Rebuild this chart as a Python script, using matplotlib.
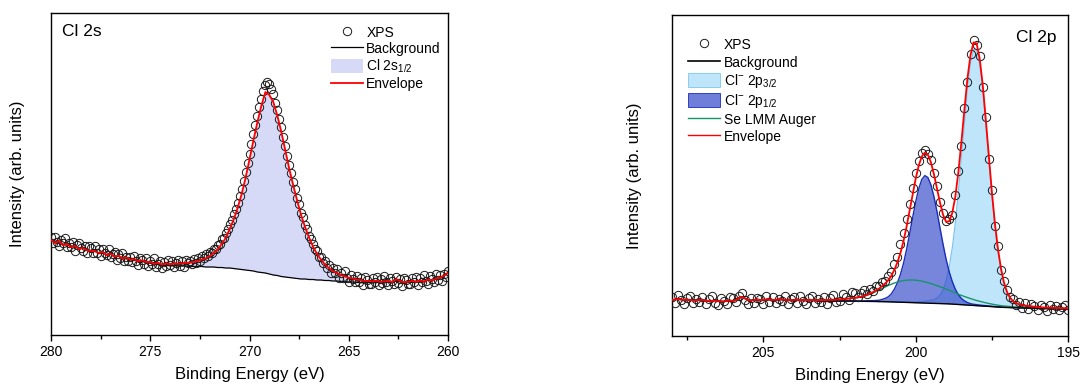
import matplotlib
matplotlib.use('Agg')
import matplotlib.pyplot as plt
import numpy as np
from matplotlib.lines import Line2D
from matplotlib.patches import Patch

plt.rcParams['font.family'] = ['Liberation Sans', 'DejaVu Sans']
plt.rcParams['mathtext.fontset'] = 'custom'
plt.rcParams['mathtext.rm'] = 'Liberation Sans'
plt.rcParams['mathtext.default'] = 'regular'

# ----- Cl 2s (left panel) -----
# fit curves on a 0.2 eV grid, 280 -> 260 eV
e_2s = np.round(np.arange(280.0, 259.9, -0.2), 1)

bg_2s = [95, 92, 94, 90, 91, 88, 89, 86, 87, 85,
         84, 84, 82, 83, 80, 81, 78, 79, 76, 77,
         75, 75, 73, 74, 72, 72, 70, 71, 69, 70,
         69, 69.5, 69, 69, 69, 68.5, 68.5, 68.5, 68.5, 68,
         68, 68, 67.5, 67.5, 67, 67, 66.5, 66, 65.5, 65,
         64.5, 64, 63, 62.5, 62, 61, 60, 59.5, 58.5, 58,
         57.5, 57, 56.5, 56, 56, 55.5, 55.5, 55, 55, 54.5,
         54.5, 54, 54, 53.5, 53.5, 53, 53, 52.5, 52.5, 52,
         52.5, 52, 53, 52, 52.5, 53, 52, 55, 53, 52,
         52.5, 53.5, 52.5, 54, 53, 55, 54, 56, 57, 59,
         62]

cl2s = [0] * 15 + [
    0.3, 0.3, 0.4, 0.4, 0.5, 0.5, 0.6, 0.7, 0.8, 0.9,
    1.0, 1.1, 1.2, 1.4, 1.6, 1.8, 2.0, 2.3, 2.7, 3.2,
    3.8, 4.6, 5.6, 7, 8.7, 11, 14, 18, 23.5, 30,
    39, 49, 61, 75, 92, 111, 131, 150, 167, 181,
    179, 173, 160, 145, 127, 109, 93, 78, 64, 52,
    42, 33, 26, 20.5, 16, 12.5, 10, 8, 6.5, 5.2,
    4.2, 3.5, 2.9, 2.4, 2.0, 1.7, 1.5, 1.3, 1.2, 1.1,
    1.0, 0.9, 0.8, 0.8, 0.7, 0.7, 0.6, 0.6, 0.5, 0.5,
    0.5, 0.4, 0.4, 0.4, 0.3, 0.3]

# measured points on a 0.1 eV grid, 280 -> 260 eV
e_2s_xps = np.round(np.arange(280.0, 259.95, -0.1), 1)
xps_2s = [98, 92, 98, 93, 89, 95, 92, 97, 88, 92,
          88, 93, 84, 90, 92, 87, 84, 89, 82, 89,
          87, 82, 89, 82, 86, 79, 86, 82, 80, 86,
          78, 81, 83, 75, 81, 77, 82, 74, 78, 74,
          78, 73, 79, 74, 70, 77, 75, 71, 77, 69,
          74, 71, 77, 68, 71, 74, 67, 73, 69, 75,
          70, 74, 68, 72, 75, 69, 74, 68, 75, 72,
          74, 71, 76, 72, 77, 74, 79, 77, 81, 79,
          83, 82, 86, 86, 90, 91, 96, 97, 102, 106,
          111, 115, 121, 126, 132, 139, 146, 154, 163, 172,
          181, 191, 201, 210, 219, 228, 236, 244, 250, 253,
          251, 246, 241, 232, 225, 216, 208, 198, 189, 179,
          170, 162, 153, 146, 137, 131, 122, 118, 110, 106,
          99, 96, 91, 86, 84, 78, 78, 72, 74, 67,
          70, 62, 67, 62, 66, 57, 62, 57, 64, 57,
          53, 60, 56, 53, 59, 53, 57, 50, 58, 55,
          51, 51, 57, 53, 58, 50, 56, 52, 59, 53,
          50, 57, 54, 51, 58, 52, 56, 49, 57, 55,
          51, 51, 57, 53, 58, 50, 57, 53, 60, 54,
          51, 59, 56, 53, 61, 55, 60, 54, 61, 58,
          64]

# ----- Cl 2p (right panel), 0.1 eV grid, 208 -> 195 eV -----
e_2p = np.round(np.arange(208.0, 194.95, -0.1), 1)

bg_2p = [36, 36.5, 37, 36.5, 36, 36.5, 36, 35.5, 35.5, 36,
         36, 35.5, 35, 35, 35.5, 35, 34.5, 34.5, 35, 35.5,
         35, 36, 38, 39, 37.5, 36, 35.5, 36, 36.5, 36,
         36, 36.5, 36.5, 36, 36, 36.5, 36.5, 36, 36, 35.5,
         36, 36, 35.5, 35.5, 35.5, 35.5, 35.5, 35.5, 35, 35,
         35, 35, 35, 35, 35, 35, 35, 35, 34.9, 34.9,
         34.8, 34.8, 34.7, 34.7, 34.6, 34.6, 34.5, 34.5, 34.4, 34.4,
         34.3, 34.2, 34.1, 34.0, 33.9, 33.8, 33.7, 33.6, 33.5, 33.4,
         33.3, 33.2, 33.1, 33.0, 32.9, 32.8, 32.7, 32.6, 32.5, 32.4,
         32.3, 32.1, 31.9, 31.7, 31.5, 31.3, 31.1, 30.9, 30.7, 30.5,
         30.3, 30.1, 29.9, 29.7, 29.5, 29.3, 29.1, 28.9, 28.7, 28.6,
         28.5, 28.4, 28.3, 28.2, 28.1, 28.0, 27.9, 27.8, 27.8, 27.7,
         27.6, 27.5, 27.5, 27.4, 27.4, 27.3, 27.3, 27.2, 27.2, 27.1,
         27.0]

se_auger = [0] * 30 + [
    0.05, 0.05, 0.05, 0.1, 0.1, 0.1, 0.1, 0.15, 0.15, 0.2,
    0.2, 0.25, 0.3, 0.3, 0.35, 0.4, 0.45, 0.5, 0.6, 0.7,
    0.8, 0.9, 1.1, 1.2, 1.35, 1.5, 1.7, 2.0, 2.3, 2.7,
    3.1, 3.6, 4.2, 5.0, 6.0, 7.2, 8.5, 10.0, 11.6, 13.2,
    14.8, 16.3, 17.7, 19.0, 20.1, 21.0, 21.7, 22.2, 22.5, 22.6,
    22.5, 22.2, 21.8, 21.2, 20.5, 19.7, 18.8, 17.8, 16.8, 15.7,
    14.6, 13.5, 12.4, 11.3, 10.3, 9.3, 8.4, 7.5, 6.7, 5.9,
    5.2, 4.6, 4.0, 3.5, 3.0, 2.6, 2.2, 1.9, 1.6, 1.4,
    1.2, 1.0, 0.9, 0.7, 0.6, 0.5, 0.4, 0.35, 0.3, 0.25,
    0.2, 0.2, 0.15, 0.15, 0.1, 0.1, 0.1, 0.1, 0.05, 0.05,
    0.05]

cl2p12 = [0] * 55 + [
    0.1, 0.1, 0.15, 0.2, 0.25,
    0.3, 0.3, 0.3, 0.4, 0.5, 0.6, 0.8, 1.0, 1.4, 2.2,
    3.3, 5, 8, 12.8, 19.3, 27.8, 38.9, 52.8, 68.6, 85.1,
    100.8, 114.1, 123.4, 127.4, 125.6, 118.4, 106.5, 91.6, 75.2, 59,
    44.2, 32.1, 22.6, 15.1, 9.8, 6.2, 4, 2.5, 1.6, 1.2,
    1.0, 0.8, 0.7, 0.6, 0.5, 0.4, 0.4, 0.3, 0.3, 0.3,
    0.2, 0.2, 0.2, 0.2, 0.2, 0.2, 0.2, 0.2, 0.2, 0.2,
    0.1, 0.1, 0.1, 0.1, 0.1, 0.1, 0.1, 0.1, 0.1, 0.1, 0.1]

cl2p32 = [0] * 65 + [
    0.1, 0.1, 0.15, 0.2, 0.2,
    0.25, 0.3, 0.3, 0.35, 0.4, 0.5, 0.55, 0.6, 0.7, 0.75,
    0.8, 1.0, 1.3, 1.7, 2.3, 2.8, 3.6, 5.4, 8.6, 14,
    23, 37, 56, 81, 112, 147, 183, 217, 242, 256,
    256, 242, 217, 183, 147, 112, 81, 56, 37, 23,
    14, 8.6, 5.4, 3.6, 2.8, 2.3, 1.9, 1.6, 1.4, 1.2,
    1.0, 0.9, 0.8, 0.8, 0.7, 0.7, 0.6, 0.6, 0.5, 0.5, 0.5]

xps_2p = [39, 33, 41, 36, 32, 38, 40, 33, 37, 34,
          39, 32, 37, 40, 33, 31, 38, 35, 32, 39,
          38, 34, 40, 43, 36, 32, 38, 33, 38, 37,
          32, 40, 34, 39, 33, 37, 35, 40, 32, 37,
          39, 33, 40, 35, 32, 38, 40, 33, 37, 34,
          39, 32, 38, 41, 34, 35, 42, 39, 36, 44,
          43, 39, 43, 46, 42, 47, 45, 50, 50, 54,
          55, 60, 64, 72, 79, 92, 103, 117, 132, 148,
          163, 175, 183, 186, 182, 176, 163, 150, 134, 123,
          115, 117, 121, 141, 165, 190, 228, 254, 282, 296,
          291, 280, 249, 219, 177, 146, 110, 90, 66, 55,
          46, 39, 37, 31, 34, 28, 33, 27, 32, 30,
          26, 31, 29, 25, 31, 27, 30, 26, 29, 31, 26]

# ----- derived curves (background + components) -----
bg_2s = np.array(bg_2s)
env_2s = bg_2s + np.array(cl2s)
bg_2p = np.array(bg_2p)
top32 = bg_2p + np.array(cl2p32)
top12 = bg_2p + np.array(cl2p12)
top_se = bg_2p + np.array(se_auger)
env_2p = bg_2p + np.array(cl2p32) + np.array(cl2p12) + np.array(se_auger)

c_2s = '#d6daf7'
c_32 = '#bfe5fa'
c_32e = '#7cc6ee'
c_12 = '#2f45c8'
c_12e = '#1a2db8'
c_se = '#17946a'
red = '#ff0000'

fig = plt.figure(figsize=(10.82, 3.88), dpi=100)
ax1 = fig.add_axes([51 / 1082, 53 / 388, 397 / 1082, 322 / 388])
ax2 = fig.add_axes([672 / 1082, 52 / 388, 396 / 1082, 321 / 388])

mk = dict(ls='none', marker='o', ms=6.0, mfc='none', mec='#1a1a1a', mew=0.7)

# left panel
ax1.fill_between(e_2s, bg_2s, env_2s, color=c_2s, lw=0, zorder=1)
ax1.plot(e_2s, bg_2s, color='k', lw=0.9, zorder=2)
ax1.plot(e_2s_xps, xps_2s, zorder=3, **mk)
ax1.plot(e_2s, env_2s, color=red, lw=1.3, zorder=4)
ax1.set_xlim(280, 260)
ax1.set_ylim(0, 322)
ax1.text(0.028, 0.944, 'Cl 2s', transform=ax1.transAxes, fontsize=12.5,
         ha='left', va='center')

h1 = [Line2D([], [], **mk),
      Line2D([], [], color='k', lw=0.9),
      Patch(facecolor=c_2s, edgecolor='none'),
      Line2D([], [], color=red, lw=1.3)]
l1 = ['XPS', 'Background', 'Cl 2s$_{1/2}$', 'Envelope']
ax1.legend(h1, l1, loc='upper left', bbox_to_anchor=(0.705, 0.962), frameon=False,
           fontsize=10, handlelength=2.3, handleheight=1.15, handletextpad=0.25,
           labelspacing=0.12, borderpad=0, borderaxespad=0)

# right panel
ax2.fill_between(e_2p, bg_2p, top32, color=c_32, lw=0, zorder=1)
ax2.plot(e_2p, top32, color=c_32e, lw=0.9, zorder=1.5)
ax2.fill_between(e_2p, bg_2p, top12, color=c_12, alpha=0.65, lw=0, zorder=2)
ax2.plot(e_2p, top12, color=c_12e, lw=1.0, zorder=2.5)
ax2.plot(e_2p, top_se, color=c_se, lw=1.0, zorder=3)
ax2.plot(e_2p, bg_2p, color='k', lw=1.0, zorder=3)
ax2.plot(e_2p, xps_2p, zorder=4, **mk)
ax2.plot(e_2p, env_2p, color=red, lw=1.3, zorder=5)
ax2.set_xlim(208, 195)
ax2.set_ylim(0, 321)
ax2.text(0.972, 0.93, 'Cl 2p', transform=ax2.transAxes, fontsize=12.5,
         ha='right', va='center')

h2 = [Line2D([], [], **mk),
      Line2D([], [], color='k', lw=1.2),
      Patch(facecolor=c_32, edgecolor=c_32e, lw=0.6),
      Patch(facecolor='#6f7fd9', edgecolor=c_12e, lw=0.6),
      Line2D([], [], color=c_se, lw=1.0),
      Line2D([], [], color=red, lw=1.0)]
l2 = ['XPS', 'Background', 'Cl$^{-}$ 2p$_{3/2}$', 'Cl$^{-}$ 2p$_{1/2}$',
      'Se LMM Auger', 'Envelope']
ax2.legend(h2, l2, loc='upper left', bbox_to_anchor=(0.04, 0.93), frameon=False,
           fontsize=10, handlelength=2.3, handleheight=1.25, handletextpad=0.3,
           labelspacing=0.15, borderpad=0, borderaxespad=0)

for ax, lx in ((ax1, -0.065), (ax2, -0.076)):
    ax.set_xticks([280, 275, 270, 265, 260] if ax is ax1 else [205, 200, 195])
    ax.xaxis.set_minor_locator(matplotlib.ticker.MultipleLocator(2.5))
    ax.set_yticks([])
    ax.tick_params(axis='x', which='major', direction='out', length=4, width=1,
                   labelsize=10, pad=3)
    ax.tick_params(axis='x', which='minor', direction='out', length=3, width=1)
    for s in ax.spines.values():
        s.set_linewidth(1.0)
    ax.set_xlabel('Binding Energy (eV)', fontsize=12, labelpad=6)
    ax.set_ylabel('Intensity (arb. units)', fontsize=12)
    ax.yaxis.set_label_coords(lx, 0.5)

fig.savefig('out.png', dpi=100)
